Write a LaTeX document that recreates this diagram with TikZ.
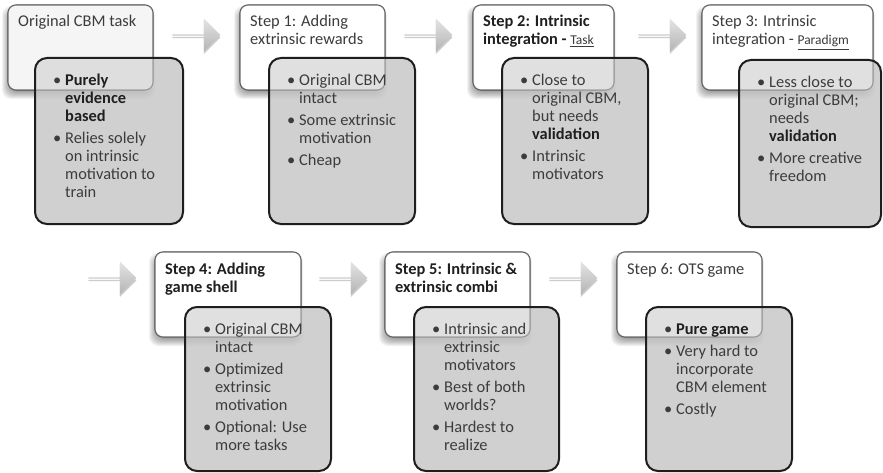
\documentclass[tikz,border=0pt]{standalone}
\usepackage{fontspec}
\setmainfont{Carlito}
\usetikzlibrary{shapes.arrows,shadows}
\definecolor{txtgray}{HTML}{3C3C3C}
\definecolor{boldgray}{HTML}{1F1F1F}
\definecolor{topline}{HTML}{555555}
\definecolor{lowline}{HTML}{1E1E1E}
\definecolor{lowfill}{HTML}{C6C6C6}
\definecolor{firstfill}{HTML}{F0F0F0}
\definecolor{arrowtop}{HTML}{E4E4E4}
\definecolor{arrowmid}{HTML}{DADADA}
\definecolor{arrowbot}{HTML}{B4B4B4}
\pgfdeclarelayer{bglayer}
\pgfdeclarelayer{shadowlayer}
\pgfdeclarelayer{topbase}
\pgfdeclarelayer{lowerfill}
\pgfdeclarelayer{topveil}
\pgfsetlayers{bglayer,shadowlayer,topbase,lowerfill,topveil,main}
\newcommand\bl{\makebox[12pt][l]{\textbullet}}
\newcommand\bt[1]{\textbf{\color{boldgray}#1}}
\newcommand\undl[1]{{\fontsize{13.5}{18}\selectfont\underline{#1}}}
\def\topfillcolor{white}
\newcommand\card[9]{%
 \begin{pgfonlayer}{shadowlayer}
  \foreach \k in {0,...,7}{\fill[black,opacity=0.05,rounded corners=9pt] (#2-6+\k,#3+1+\k) rectangle (#4+2-\k,#5+9-\k);}
 \end{pgfonlayer}
 \begin{pgfonlayer}{topbase}
  \node[topbox,fill=\topfillcolor,minimum width=#4-#2,minimum height=#5-#3] (t#1) at (#2,#3) {};
  \draw[topline,line width=1.1pt,rounded corners=8pt] (t#1.north west) rectangle (t#1.south east);
 \end{pgfonlayer}
 \begin{pgfonlayer}{lowerfill}
  \node[lowbox,minimum width=#8-#6,minimum height=#9-#7] (b#1) at (#6,#7) {};
 \end{pgfonlayer}
 \begin{pgfonlayer}{topveil}
  \fill[white,opacity=0.35,rounded corners=8pt] (t#1.north west) rectangle (t#1.south east);
  \draw[topline,line width=1.1pt,opacity=0.35,rounded corners=8pt] (t#1.north west) rectangle (t#1.south east);
 \end{pgfonlayer}
 \draw[lowline,line width=2pt,rounded corners=12pt] (b#1.north west) rectangle (b#1.south east);
}
\tikzset{
 topbox/.style={anchor=north west,inner sep=0pt,outer sep=0pt,rounded corners=8pt,draw=none},
 lowbox/.style={anchor=north west,inner sep=0pt,outer sep=0pt,rounded corners=12pt,draw=none,fill=lowfill,fill opacity=0.82},
 ttext/.style={anchor=base west,inner sep=0pt,font=\fontsize{16.4}{18}\selectfont,text=txtgray},
 blockarrow/.style={single arrow,minimum height=48pt,minimum width=33pt,single arrow head extend=6pt,
   inner sep=0pt,draw=none,top color=arrowtop,middle color=arrowmid,bottom color=arrowbot,
   drop shadow={opacity=0.4,shadow xshift=0pt,shadow yshift=-2.5pt,fill=gray}},
}
\begin{document}
\begin{tikzpicture}[x=1pt,y=-1pt]
\useasboundingbox (0,0) rectangle (883,473);
\begin{pgfonlayer}{bglayer}
\fill[white] (0,0) rectangle (883,473);
\end{pgfonlayer}
% cards
\def\topfillcolor{firstfill}
\card{0}{8}{5}{153}{90}{35}{58}{183}{224}
\def\topfillcolor{white}
\card{1}{240}{5}{385}{90}{269}{58}{415}{224}
\card{2}{473}{5}{614}{90}{502}{58}{648}{224}
\card{3}{702}{5}{873}{90}{739}{60}{881}{227}
\card{4}{155}{252}{301}{337}{185}{307}{331}{471}
\card{5}{385}{252}{530}{337}{414}{307}{559}{471}
\card{6}{617}{252}{762}{337}{646}{307}{792}{471}
% arrows
\node[blockarrow] (a1) at (196,35) {};
\node[blockarrow] (a2) at (428,35) {};
\node[blockarrow] (a3) at (662,35) {};
\node[blockarrow] (a4) at (112,278) {};
\node[blockarrow] (a5) at (343,278) {};
\node[blockarrow] (a6) at (573,278) {};
% top texts
\node[ttext] (t0x) at ([xshift=10pt,yshift=-22pt]t0.north west) {Original CBM task};
\node[ttext] (t1x) at ([xshift=10pt,yshift=-22pt]t1.north west) {\begin{tabular}[t]{@{}l@{}}Step 1: Adding\\extrinsic rewards\end{tabular}};
\node[ttext] (t2x) at ([xshift=10pt,yshift=-22pt]t2.north west) {\begin{tabular}[t]{@{}l@{}}\bt{Step 2: Intrinsic}\\\bt{integration -} \undl{Task}\end{tabular}};
\node[ttext] (t3x) at ([xshift=10pt,yshift=-22pt]t3.north west) {\begin{tabular}[t]{@{}l@{}}Step 3: Intrinsic\\integration - \undl{Paradigm}\end{tabular}};
\node[ttext] (t4x) at ([xshift=10pt,yshift=-22pt]t4.north west) {\begin{tabular}[t]{@{}l@{}}\bt{Step 4: Adding}\\\bt{game shell}\end{tabular}};
\node[ttext] (t5x) at ([xshift=10pt,yshift=-22pt]t5.north west) {\begin{tabular}[t]{@{}l@{}}\bt{Step 5: Intrinsic \&}\\\bt{extrinsic combi}\end{tabular}};
\node[ttext] (t6x) at ([xshift=10pt,yshift=-22pt]t6.north west) {Step 6: OTS game};
% bullet texts
\node[ttext] (b0x) at ([xshift=18pt,yshift=-28pt]b0.north west) {\begin{tabular}[t]{@{}l@{}l@{}}\bl&\bt{Purely}\\&\bt{evidence}\\&\bt{based}\\[4pt]\bl&Relies solely\\&on intrinsic\\&motivation to\\&train\end{tabular}};
\node[ttext] (b1x) at ([xshift=18pt,yshift=-28pt]b1.north west) {\begin{tabular}[t]{@{}l@{}l@{}}\bl&Original CBM\\&intact\\[4pt]\bl&Some extrinsic\\&motivation\\[4pt]\bl&Cheap\end{tabular}};
\node[ttext] (b2x) at ([xshift=18pt,yshift=-28pt]b2.north west) {\begin{tabular}[t]{@{}l@{}l@{}}\bl&Close to\\&original CBM,\\&but needs\\&\bt{validation}\\[4pt]\bl&Intrinsic\\&motivators\end{tabular}};
\node[ttext] (b3x) at ([xshift=18pt,yshift=-28pt]b3.north west) {\begin{tabular}[t]{@{}l@{}l@{}}\bl&Less close to\\&original CBM;\\&needs\\&\bt{validation}\\[4pt]\bl&More creative\\&freedom\end{tabular}};
\node[ttext] (b4x) at ([xshift=18pt,yshift=-27pt]b4.north west) {\begin{tabular}[t]{@{}l@{}l@{}}\bl&Original CBM\\&intact\\[4pt]\bl&Optimized\\&extrinsic\\&motivation\\[4pt]\bl&Optional: Use\\&more tasks\end{tabular}};
\node[ttext] (b5x) at ([xshift=18pt,yshift=-27pt]b5.north west) {\begin{tabular}[t]{@{}l@{}l@{}}\bl&Intrinsic and\\&extrinsic\\&motivators\\[4pt]\bl&Best of both\\&worlds?\\[4pt]\bl&Hardest to\\&realize\end{tabular}};
\node[ttext] (b6x) at ([xshift=18pt,yshift=-27pt]b6.north west) {\begin{tabular}[t]{@{}l@{}l@{}}\bl&\bt{Pure game}\\[4pt]\bl&Very hard to\\&incorporate\\&CBM element\\[4pt]\bl&Costly\end{tabular}};
\end{tikzpicture}
\end{document}
